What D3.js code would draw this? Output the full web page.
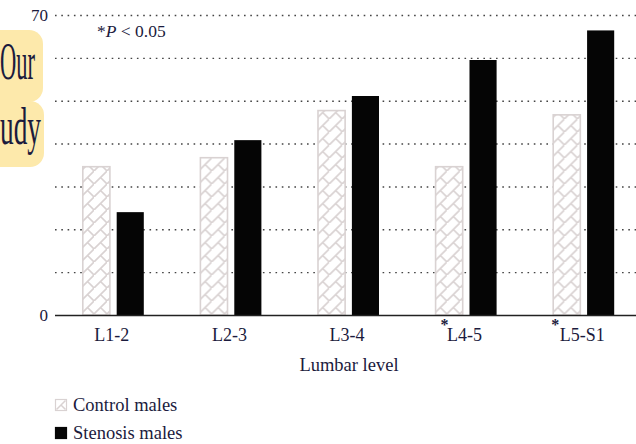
<!DOCTYPE html>
<html>
<head>
<meta charset="utf-8">
<script src="https://cdn.jsdelivr.net/npm/d3@7"></script>
<style>
  html, body { margin: 0; padding: 0; background: #fff; }
  svg { display: block; }
  svg text { font-family: "Liberation Serif", "DejaVu Serif", serif; fill: #1b1b3d; }
</style>
</head>
<body>
<svg id="chart" width="636" height="444"></svg>
<script>
// Lumbar levels and measured values per group
const levels = ["L1-2", "L2-3", "L3-4", "L4-5", "L5-S1"];
const controlMales = [34.6, 36.7, 47.7, 34.6, 46.7];
const stenosisMales = [24.0, 40.8, 51.1, 59.5, 66.4];
const significant = ["L4-5", "L5-S1"];
const gridTicks = [10, 20, 30, 40, 50, 60, 70];
const labelTicks = [0, 70];
const seriesNames = ["Control males", "Stenosis males"];

const SERIF = '"Liberation Serif", "DejaVu Serif", serif';
const INK = "#1b1b3d";

const svg = d3.select("#chart");
const W = 636;

const y = d3.scaleLinear().domain([0, 70]).range([315, 15]);
const x = d3.scaleBand().domain(levels).range([55, 643]);
const step = x.step();
const xs = d3.scaleBand().domain(["control", "stenosis"])
  .range([step / 2 - 31, step / 2 + 30]).paddingInner(0.2);

// hatch for the control bars
const defs = svg.append("defs");
const pat = defs.append("pattern")
  .attr("id", "hatch").attr("patternUnits", "userSpaceOnUse")
  .attr("width", 13).attr("height", 13)
  .attr("x", 0).attr("y", 2);
pat.append("rect").attr("width", 13).attr("height", 13).attr("fill", "#fff");
pat.append("path")
  .attr("d", "M-1,14 L14,-1 M6.5,6.5 L14,14")
  .attr("stroke", "#d9d2d2").attr("stroke-width", 1.6).attr("fill", "none");

// cropped heading fragment at the left edge
const frag = svg.append("g");
frag.append("rect").attr("x", -20).attr("y", 30).attr("width", 63).attr("height", 72)
  .attr("rx", 14).attr("fill", "#fde9ab");
frag.append("rect").attr("x", -20).attr("y", 101).attr("width", 64).attr("height", 66)
  .attr("rx", 14).attr("fill", "#fde9ab");
frag.append("text").attr("x", 0).attr("y", 79).attr("font-size", 52)
  .attr("font-family", SERIF).attr("fill", INK)
  .attr("textLength", 35).attr("lengthAdjust", "spacingAndGlyphs").text("Our");
frag.append("text").attr("x", 0).attr("y", 144).attr("font-size", 52)
  .attr("font-family", SERIF).attr("fill", INK)
  .attr("textLength", 41).attr("lengthAdjust", "spacingAndGlyphs").text("udy");

// dotted grid
svg.append("g").selectAll("line").data(gridTicks).join("line")
  .attr("x1", 55).attr("x2", W)
  .attr("y1", d => y(d) + 0.5).attr("y2", d => y(d) + 0.5)
  .attr("stroke", "#444").attr("stroke-width", 1.4)
  .attr("stroke-dasharray", "1.6,4.7");

// bars
const groups = svg.append("g").selectAll("g").data(levels).join("g")
  .attr("transform", d => `translate(${x(d)},0)`);
groups.append("rect")
  .attr("x", xs("control")).attr("width", xs.bandwidth())
  .attr("y", (d, i) => y(controlMales[i]))
  .attr("height", (d, i) => y(0) - y(controlMales[i]))
  .attr("fill", "url(#hatch)").attr("stroke", "#d9d2d2").attr("stroke-width", 1.6);
groups.append("rect")
  .attr("x", xs("stenosis")).attr("width", xs.bandwidth())
  .attr("y", (d, i) => y(stenosisMales[i]))
  .attr("height", (d, i) => y(0) - y(stenosisMales[i]))
  .attr("fill", "#050505");

// baseline
svg.append("line").attr("x1", 55).attr("x2", W)
  .attr("y1", y(0) + 0.5).attr("y2", y(0) + 0.5)
  .attr("stroke", "#222").attr("stroke-width", 1.5);

// y labels
const yAxis = svg.append("g").attr("transform", "translate(48,0)")
  .call(d3.axisLeft(y).tickValues(labelTicks).tickSize(0).tickPadding(0));
yAxis.attr("font-family", SERIF);
yAxis.select(".domain").remove();
yAxis.selectAll("text").attr("font-size", 17).attr("font-family", SERIF).attr("fill", INK);

// x labels
const xAxis = svg.append("g").attr("transform", `translate(-2,${y(0)})`)
  .call(d3.axisBottom(x).tickSize(0).tickPadding(13));
xAxis.attr("font-family", SERIF);
xAxis.select(".domain").remove();
xAxis.selectAll("text").attr("font-size", 18).attr("font-family", SERIF).attr("fill", INK);

// significance marks
svg.append("g").selectAll("text").data(significant).join("text")
  .attr("x", d => x(d) + step / 2 - (d === "L5-S1" ? 29 : 22))
  .attr("y", 330).attr("font-size", 16).attr("font-weight", "bold")
  .attr("text-anchor", "middle").attr("font-family", SERIF).attr("fill", INK)
  .text("*");

svg.append("text").attr("x", x("L3-4") + step / 2).attr("y", 371)
  .attr("text-anchor", "middle").attr("font-size", 18.5)
  .attr("font-family", SERIF).attr("fill", INK).text("Lumbar level");

const note = svg.append("text").attr("x", 97).attr("y", 37).attr("font-size", 17.5)
  .attr("font-family", SERIF).attr("fill", INK);
note.append("tspan").text("*");
note.append("tspan").attr("font-style", "italic").text("P");
note.append("tspan").text(" < 0.05");

// legend
const legend = svg.append("g").attr("transform", "translate(55,399)");
const items = legend.selectAll("g").data(seriesNames).join("g")
  .attr("transform", (d, i) => `translate(0,${i * 28})`);
items.append("rect").attr("x", 0.5).attr("y", 0.5).attr("width", 11).attr("height", 11)
  .attr("fill", (d, i) => i === 0 ? "#fff" : "#050505")
  .attr("stroke", (d, i) => i === 0 ? "#d9d2d2" : "#050505").attr("stroke-width", 1.2);
items.filter((d, i) => i === 0).append("path")
  .attr("d", "M1.5,10.5 L10.5,1.5 M6,6 L10.5,10.5").attr("stroke", "#d9d2d2")
  .attr("stroke-width", 1.5);
items.append("text").attr("x", 18).attr("y", 12).attr("font-size", 18.5)
  .attr("font-family", SERIF).attr("fill", INK)
  .text(d => d);
</script>
</body>
</html>
